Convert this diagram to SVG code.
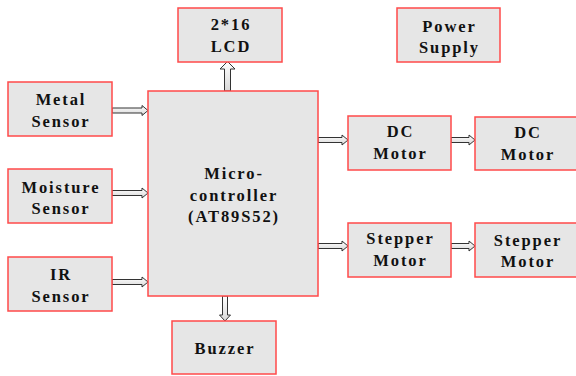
<svg xmlns="http://www.w3.org/2000/svg" width="576" height="376" viewBox="0 0 576 376">
<defs>
<style>
.box{fill:#e6e6e6;stroke:#ff4a4a;stroke-width:1.5}
.arr{fill:url(#g);stroke:#333;stroke-width:1;stroke-linejoin:miter}
</style>
<linearGradient id="g" x1="0" y1="0" x2="0" y2="1">
<stop offset="0" stop-color="#ffffff"/><stop offset="1" stop-color="#d8d8d8"/>
</linearGradient>
</defs>
<rect width="576" height="376" fill="#fff"/>
<g id="connectors">
<path class="arr" d="M112,108 L142,108 L142,105.5 L148,110.5 L142,115.5 L142,113 L112,113 Z"/>
<path class="arr" d="M112,190.5 L142,190.5 L142,188 L148,193 L142,198 L142,195.5 L112,195.5 Z"/>
<path class="arr" d="M112,279.5 L142,279.5 L142,277 L148,282 L142,287 L142,284.5 L112,284.5 Z"/>
<path class="arr" d="M224.5,91 L224.5,69 L220,69 L227.5,61.5 L235,69 L230.5,69 L230.5,91 Z"/>
<path class="arr" d="M222.5,296 L222.5,315 L219.5,315 L225,321 L230.5,315 L227.5,315 L227.5,296 Z"/>
<path class="arr" d="M318,137.5 L342,137.5 L342,135 L348,140 L342,145 L342,142.5 L318,142.5 Z"/>
<path class="arr" d="M451,137.5 L469,137.5 L469,135 L475,140 L469,145 L469,142.5 L451,142.5 Z"/>
<path class="arr" d="M318,243.5 L342,243.5 L342,241 L348,246 L342,251 L342,248.5 L318,248.5 Z"/>
<path class="arr" d="M451,243.5 L469,243.5 L469,241 L475,246 L469,251 L469,248.5 L451,248.5 Z"/>
</g>
<g font-family="Liberation Serif, Times New Roman, serif" font-weight="bold" font-size="16.5" fill="#111" text-anchor="middle" letter-spacing="1.9">
<g id="lcd"><rect class="box" x="178" y="8" width="104" height="54"/><text x="231" y="30">2*16</text><text x="231" y="52">LCD</text></g>
<g id="power"><rect class="box" x="397" y="8" width="103" height="54"/><text x="449.5" y="32">Power</text><text x="449.5" y="53">Supply</text></g>
<g id="metal"><rect class="box" x="8" y="82" width="104" height="54"/><text x="61" y="105">Metal</text><text x="61" y="127">Sensor</text></g>
<g id="moisture"><rect class="box" x="8" y="169" width="104" height="54"/><text x="61" y="193">Moisture</text><text x="61" y="214">Sensor</text></g>
<g id="ir"><rect class="box" x="8" y="257" width="104" height="54"/><text x="61" y="280">IR</text><text x="61" y="302">Sensor</text></g>
<g id="micro"><rect class="box" x="148" y="91" width="170" height="205"/><text x="234" y="179">Micro-</text><text x="234" y="201">controller</text><text x="234" y="222">(AT89S52)</text></g>
<g id="buzzer"><rect class="box" x="172" y="321" width="104" height="53"/><text x="225" y="354">Buzzer</text></g>
<g id="dc1"><rect class="box" x="348" y="116" width="103" height="54"/><text x="400.5" y="137">DC</text><text x="400.5" y="159">Motor</text></g>
<g id="dc2"><rect class="box" x="475" y="117" width="103" height="53"/><text x="528" y="138">DC</text><text x="528" y="160">Motor</text></g>
<g id="step1"><rect class="box" x="348" y="223" width="103" height="54"/><text x="400.5" y="244">Stepper</text><text x="400.5" y="266">Motor</text></g>
<g id="step2"><rect class="box" x="475" y="223" width="103" height="54"/><text x="528" y="246">Stepper</text><text x="528" y="267">Motor</text></g>
</g>
</svg>
